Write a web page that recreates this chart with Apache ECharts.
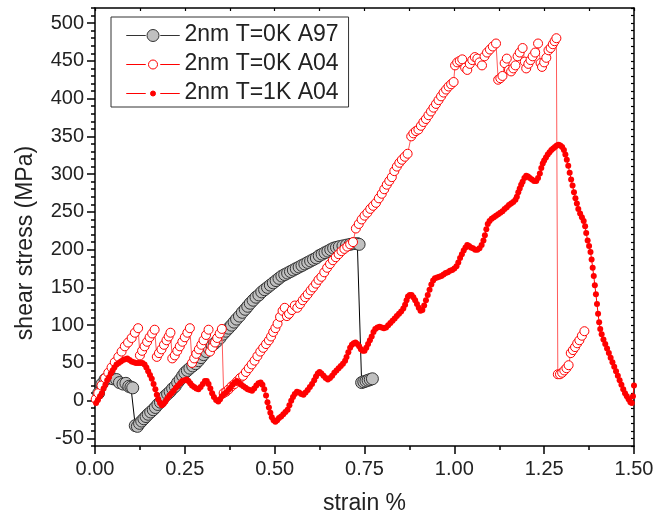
<!DOCTYPE html>
<html><head><meta charset="utf-8">
<script src="https://cdn.jsdelivr.net/npm/echarts@6/dist/echarts.min.js"></script>
<style>html,body{margin:0;padding:0;background:#fff}#c{width:669px;height:517px}</style>
</head><body><div id="c"></div>
<script>
const FONT = "'Liberation Sans', Arial, sans-serif";
const xMajorTicks = [0, 0.25, 0.5, 0.75, 1.0, 1.25, 1.5];
const yMajorTicks = [-50, 0, 50, 100, 150, 200, 250, 300, 350, 400, 450, 500];
const seriesNames = ['2nm T=0K A97', '2nm T=0K A04', '2nm T=1K A04'];

// 2nm T=0K A97 (grey filled circles)
const a97 = [
[0.010,10],[0.019,22],[0.028,28],[0.040,30],[0.050,29],[0.060,28],[0.068,24],[0.078,22],[0.086,23],[0.094,19],[0.100,18],[0.105,17],
[0.112,-33],[0.118,-34],[0.124,-30],[0.130,-27],[0.136,-24],[0.142,-21],[0.148,-18],[0.155,-15],[0.162,-12],[0.168,-9],[0.175,-5],
[0.182,-2],[0.188,2],[0.195,6],[0.202,9],[0.209,12],[0.216,16],[0.223,19],[0.230,24],[0.237,28],[0.244,33],[0.250,37],[0.257,40],
[0.264,43],[0.272,46],[0.280,49],[0.288,53],[0.295,57],[0.302,61],[0.310,65],[0.318,69],[0.326,73],[0.333,76],[0.340,79],[0.348,83],
[0.356,88],[0.364,92],[0.372,96],[0.380,100],[0.387,104],[0.394,108],[0.402,112],[0.410,117],[0.418,121],[0.425,125],[0.432,129],
[0.440,133],[0.448,137],[0.456,140],[0.464,144],[0.472,147],[0.480,150],[0.488,153],[0.496,156],[0.504,159],[0.512,162],[0.520,165],
[0.528,167],[0.536,169],[0.544,171],[0.552,173],[0.560,175],[0.568,177],[0.576,179],[0.584,181],[0.592,183],[0.600,185],[0.608,187],
[0.616,189],[0.624,192],[0.632,194],[0.640,196],[0.648,198],[0.656,200],[0.664,202],[0.672,203],[0.680,204],[0.690,205],[0.700,206],
[0.710,207],[0.720,208],[0.730,208],[0.735,207],
[0.742,24],[0.748,25],[0.754,26],[0.760,27],[0.766,28],[0.772,29]
];

// 2nm T=0K A04 (red open circles)
const a04cold = [
[0.002,2],[0.009,10],[0.018,20],[0.028,30],[0.037,37],[0.046,44],[0.055,51],[0.065,58],[0.074,65],[0.083,72],[0.092,77],[0.102,83],[0.111,90],[0.120,96],
[0.125,60],[0.131,66],[0.138,72],[0.145,78],[0.152,84],[0.159,89],[0.166,94],
[0.172,58],[0.178,63],[0.185,68],[0.192,74],[0.199,80],[0.205,85],[0.210,90],
[0.215,56],[0.222,60],[0.229,66],[0.236,72],[0.243,78],[0.250,84],[0.257,90],[0.264,96],
[0.270,50],[0.276,56],[0.282,62],[0.289,68],[0.296,74],[0.302,80],[0.309,87],[0.316,94],
[0.320,65],[0.327,71],[0.334,77],[0.340,83],[0.347,89],[0.353,95],
[0.358,10],[0.365,12],[0.372,15],[0.380,19],[0.388,22],[0.396,26],[0.404,30],[0.412,33],[0.420,38],[0.428,43],[0.436,48],[0.444,53],
[0.452,59],[0.460,65],[0.468,70],[0.476,75],[0.484,80],[0.490,85],[0.496,91],[0.502,96],[0.508,102],[0.515,111],[0.522,119],[0.528,123],
[0.534,112],[0.540,115],[0.548,120],[0.556,126],[0.563,123],[0.571,128],[0.578,133],[0.585,137],[0.592,141],[0.600,146],[0.607,150],
[0.615,155],[0.622,160],[0.630,164],[0.638,170],[0.646,176],[0.654,181],[0.662,186],[0.670,190],[0.678,194],[0.686,198],[0.694,201],
[0.702,204],[0.710,207],[0.718,210],
[0.726,228],[0.734,234],[0.742,240],[0.750,245],[0.758,249],[0.766,254],[0.774,258],[0.782,262],[0.790,268],[0.798,274],[0.805,280],
[0.812,286],[0.819,291],[0.826,296],[0.833,304],[0.840,310],[0.847,315],[0.854,319],[0.862,323],[0.870,327],
[0.880,350],[0.886,354],[0.893,357],[0.900,359],[0.907,364],[0.914,369],[0.921,373],[0.928,378],[0.935,383],[0.942,388],[0.949,393],
[0.956,398],[0.963,403],[0.970,408],[0.977,412],[0.984,416],[0.991,419],[0.998,422],
[1.002,444],[1.008,448],[1.015,450],[1.022,452],[1.030,441],[1.036,438],[1.043,446],[1.050,451],[1.057,455],[1.064,453],[1.070,448],
[1.077,444],[1.084,456],[1.091,461],[1.099,465],[1.107,469],[1.116,473],
[1.122,425],[1.128,427],[1.134,430],[1.140,447],[1.146,453],[1.152,438],[1.158,436],[1.164,440],[1.170,444],[1.176,456],[1.182,461],
[1.190,467],[1.196,449],[1.200,440],[1.206,446],[1.212,451],[1.218,456],[1.225,461],[1.233,473],[1.240,447],[1.244,442],[1.250,448],
[1.256,454],[1.262,464],[1.268,467],[1.274,472],[1.279,476],[1.284,480],
[1.288,35],[1.294,35],[1.300,37],[1.306,40],[1.312,43],[1.318,47],[1.324,63],[1.330,67],[1.336,71],[1.342,76],[1.348,80],[1.355,86],[1.362,92]
];

// 2nm T=1K A04 (red filled dots)
const a04warm = [
[0.003,-3],[0.008,1],[0.014,6],[0.019,10],[0.024,16],[0.029,21],[0.034,27],[0.039,31],[0.044,36],[0.049,40],[0.054,44],[0.060,48],
[0.066,50],[0.072,52],[0.078,54],[0.084,55],[0.090,56],[0.096,54],[0.102,52],[0.108,51],[0.114,50],[0.120,50],[0.126,50],[0.132,50],
[0.138,48],[0.143,44],[0.148,39],[0.153,34],[0.158,29],[0.163,22],[0.168,15],[0.172,8],[0.176,2],[0.181,-3],[0.186,-6],[0.191,-4],
[0.196,-1],[0.201,3],[0.207,7],[0.213,10],[0.219,13],[0.225,17],[0.231,20],[0.237,23],[0.243,26],[0.249,27],[0.255,28],[0.260,26],
[0.265,23],[0.270,20],[0.276,18],[0.282,16],[0.288,15],[0.294,18],[0.300,22],[0.306,26],[0.311,26],[0.316,22],[0.321,16],[0.326,10],
[0.331,5],[0.337,1],[0.343,-1],[0.348,2],[0.353,6],[0.359,9],[0.365,11],[0.371,14],[0.377,17],[0.383,21],[0.389,24],[0.395,26],
[0.401,24],[0.407,21],[0.413,19],[0.419,17],[0.425,15],[0.431,14],[0.437,13],[0.443,16],[0.449,20],[0.455,23],[0.461,24],[0.466,21],
[0.471,15],[0.476,7],[0.480,-2],[0.484,-9],[0.488,-16],[0.492,-22],[0.497,-26],[0.502,-28],[0.507,-26],[0.512,-23],[0.518,-21],
[0.524,-18],[0.530,-15],[0.536,-12],[0.541,-6],[0.546,0],[0.551,5],[0.556,9],[0.562,12],[0.568,11],[0.574,9],[0.580,8],[0.586,11],
[0.592,14],[0.598,18],[0.604,22],[0.610,27],[0.615,32],[0.620,36],[0.625,38],[0.630,36],[0.636,33],[0.642,30],[0.648,28],[0.654,30],
[0.660,33],[0.666,37],[0.672,40],[0.678,43],[0.684,46],[0.690,49],[0.696,53],[0.700,58],[0.705,64],[0.710,70],[0.715,74],[0.720,76],
[0.725,77],[0.730,75],[0.735,72],[0.740,68],[0.745,66],[0.750,66],[0.755,70],[0.760,75],[0.765,80],[0.770,85],[0.775,91],[0.780,95],
[0.786,97],[0.792,98],[0.798,97],[0.804,96],[0.810,97],[0.816,100],[0.822,103],[0.828,106],[0.834,109],[0.840,112],[0.846,115],
[0.852,118],[0.858,122],[0.863,127],[0.867,133],[0.871,138],[0.876,140],[0.881,140],[0.886,137],[0.891,133],[0.896,128],[0.901,123],
[0.906,119],[0.911,120],[0.916,126],[0.921,133],[0.926,140],[0.931,147],[0.936,154],[0.941,159],[0.946,162],[0.952,163],[0.958,164],
[0.964,165],[0.970,167],[0.976,169],[0.982,170],[0.988,172],[0.994,173],[1.000,175],[1.006,178],[1.011,183],[1.016,189],[1.021,194],
[1.026,199],[1.031,203],[1.036,206],[1.041,205],[1.046,203],[1.052,202],[1.058,200],[1.064,200],[1.070,202],[1.076,206],[1.081,212],
[1.085,219],[1.089,227],[1.093,234],[1.098,238],[1.104,241],[1.110,243],[1.116,245],[1.122,247],[1.128,249],[1.134,251],[1.140,254],
[1.146,256],[1.152,259],[1.158,261],[1.164,263],[1.170,266],[1.174,270],[1.178,276],[1.182,281],[1.186,286],[1.190,290],[1.195,295],
[1.200,298],[1.205,297],[1.210,295],[1.216,293],[1.222,291],[1.228,291],[1.233,295],[1.238,301],[1.242,308],[1.246,314],[1.250,318],
[1.255,322],[1.260,326],[1.265,329],[1.270,332],[1.275,334],[1.280,336],[1.285,338],[1.290,339],[1.295,338],[1.300,336],[1.305,332],
[1.309,326],[1.313,319],[1.317,311],[1.321,302],[1.325,293],[1.329,285],[1.333,276],[1.337,268],[1.341,261],[1.345,254],[1.350,248],
[1.355,243],[1.360,238],[1.364,231],[1.367,222],[1.371,212],[1.375,205],[1.379,197],[1.382,187],[1.385,176],[1.388,165],[1.391,153],
[1.394,141],[1.397,128],[1.400,115],[1.403,104],[1.406,95],[1.410,88],[1.415,81],[1.420,75],[1.425,69],[1.430,63],[1.435,57],
[1.440,51],[1.445,45],[1.450,39],[1.455,33],[1.460,27],[1.465,21],[1.470,15],[1.475,10],[1.480,6],[1.485,2],[1.490,-2],[1.494,-3],
[1.497,6],[1.500,20]
];

// legend glyphs: short line, gap, marker, gap, short line (53 x 14 box)
const iconGrey = 'path://M0 0M53 14M0 7.5H19V7.5H0ZM20.5 7.5A6 6 0 1 0 32.5 7.5A6 6 0 1 0 20.5 7.5ZM34 7.5H53V7.5H34Z';
const iconOpen = 'path://M0 0M53 14M0 7.5H19V7.5H0ZM22 7.5A4.5 4.5 0 1 0 31 7.5A4.5 4.5 0 1 0 22 7.5ZM34 7.5H53V7.5H34Z';
const iconDot  = 'path://M0 0M53 14M0 7.5H19V7.5H0ZM24 7.5A2.5 2.5 0 1 0 29 7.5A2.5 2.5 0 1 0 24 7.5ZM34 7.5H53V7.5H34Z';

const chart = echarts.init(document.getElementById('c'), null, {renderer: 'canvas'});
const axisCol = '#000';
const yBase = {type: 'value', min: -60, max: 520, interval: 10, splitLine: {show: false}};
const option = {
  animation: false,
  backgroundColor: '#fff',
  textStyle: {fontFamily: FONT},
  grid: {left: 95, right: 35, top: 8, bottom: 71, containLabel: false, outerBoundsMode: 'none'},
  legend: {
    orient: 'vertical', left: 111, top: 17,
    backgroundColor: '#fff', borderColor: '#333', borderWidth: 1,
    padding: [6, 10, 2, 15], itemGap: 5, itemWidth: 53, itemHeight: 14,
    symbolKeepAspect: true,
    itemStyle: {borderWidth: 1},
    textStyle: {fontFamily: FONT, fontSize: 23, color: '#222', lineHeight: 24},
    data: [
      {name: seriesNames[0], icon: iconGrey, itemStyle: {color: '#c0c0c0', borderColor: '#333', borderWidth: 1}},
      {name: seriesNames[1], icon: iconOpen, itemStyle: {color: '#ffffff', borderColor: '#ff0000', borderWidth: 1}},
      {name: seriesNames[2], icon: iconDot, itemStyle: {color: '#ff0000', borderColor: '#ff0000', borderWidth: 1}}
    ]
  },
  xAxis: [
    {type: 'value', position: 'bottom', min: 0, max: 1.5, interval: 0.25,
     axisLine: {show: true, onZero: false, lineStyle: {color: axisCol, width: 1.5}},
     axisTick: {show: true, inside: false, length: 8, lineStyle: {color: axisCol, width: 1.5}},
     minorTick: {show: true, splitNumber: 2, length: 4, lineStyle: {color: axisCol, width: 1.5}},
     axisLabel: {formatter: v => v.toFixed(2), fontSize: 20, color: '#222', margin: 13, fontFamily: FONT},
     splitLine: {show: false},
     name: 'strain %', nameLocation: 'middle', nameGap: 46,
     nameTextStyle: {fontSize: 23, color: '#222', fontFamily: FONT}},
    {type: 'value', position: 'top', min: 0, max: 1.5, interval: 0.125,
     axisLine: {show: true, onZero: false, lineStyle: {color: axisCol, width: 1.5}},
     axisTick: {show: true, inside: true, length: 3, lineStyle: {color: axisCol, width: 1.2}},
     axisLabel: {show: false}, splitLine: {show: false}}
  ],
  yAxis: [
    Object.assign({}, yBase, {position: 'left',
     axisLine: {show: true, onZero: false, lineStyle: {color: axisCol, width: 1.5}},
     axisTick: {show: true, inside: false, length: 4, lineStyle: {color: axisCol, width: 1.5}},
     axisLabel: {formatter: v => { const r = Math.round(v); return (r % 50 === 0 && r >= -50 && r <= 500) ? String(r) : ''; },
                 fontSize: 20, color: '#222', margin: 11, fontFamily: FONT},
     name: 'shear stress (MPa)', nameLocation: 'middle', nameGap: 58, nameRotate: 90,
     nameTextStyle: {fontSize: 23, color: '#222', fontFamily: FONT, padding: [0, 32, 0, 0]}}),
    Object.assign({}, yBase, {position: 'left',
     axisLine: {show: false},
     axisTick: {show: true, inside: false, length: 8, customValues: yMajorTicks, lineStyle: {color: axisCol, width: 1.5}},
     axisLabel: {show: false}}),
    Object.assign({}, yBase, {position: 'right',
     axisLine: {show: true, onZero: false, lineStyle: {color: axisCol, width: 1.5}},
     axisTick: {show: true, inside: true, length: 3, lineStyle: {color: axisCol, width: 1.2}},
     axisLabel: {show: false}})
  ],
  series: [
    {type: 'line', name: seriesNames[0], data: a97, xAxisIndex: 0, yAxisIndex: 0,
     symbol: 'circle', symbolSize: 12, showAllSymbol: true, z: 3,
     itemStyle: {color: '#c0c0c0', borderColor: '#333', borderWidth: 1},
     lineStyle: {color: '#000', width: 1}, emphasis: {disabled: true}},
    {type: 'line', name: seriesNames[1], data: a04cold, xAxisIndex: 0, yAxisIndex: 0,
     symbol: 'circle', symbolSize: 9, showAllSymbol: true, z: 4,
     itemStyle: {color: '#ffffff', borderColor: '#ff0000', borderWidth: 1},
     lineStyle: {color: '#ff5a5a', width: 1}, emphasis: {disabled: true}},
    {type: 'line', name: seriesNames[2], data: a04warm, xAxisIndex: 0, yAxisIndex: 0,
     symbol: 'circle', symbolSize: 6, showAllSymbol: true, z: 5,
     itemStyle: {color: '#ff0000', borderColor: '#ff0000', borderWidth: 0},
     lineStyle: {color: '#ff0000', width: 1}, emphasis: {disabled: true}}
  ]
};
chart.setOption(option);
</script>
</body></html>
